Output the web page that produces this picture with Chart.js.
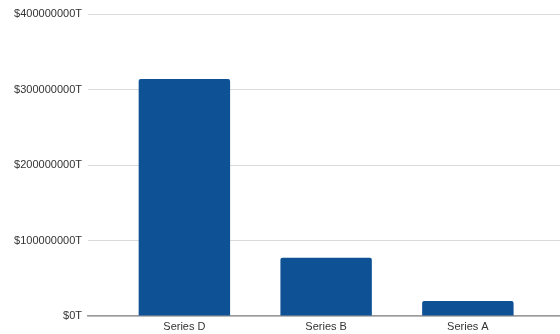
<!DOCTYPE html>
<html>
<head>
<meta charset="utf-8">
<script src="https://cdn.jsdelivr.net/npm/chart.js@4"></script>
<style>
  html, body { margin: 0; padding: 0; background: #fff; }
  #wrap { width: 560px; height: 334px; }
</style>
</head>
<body>
<div id="wrap"><canvas id="myChart"></canvas></div>
<script>
// chart data
var categories = ['Series D', 'Series B', 'Series A'];
var values = [314000000, 77000000, 20000000];
var yTicks = [0, 100000000, 200000000, 300000000, 400000000];

var ctx = document.getElementById('myChart').getContext('2d');
var myChart = new Chart(ctx, {
	type: 'bar',
	data: {
		datasets: [
			{
				data: values.map(function (v, i) { return { x: i, y: v }; }),
				backgroundColor: '#0e5194',
				borderRadius: { topLeft: 2, topRight: 2 },
				borderSkipped: 'bottom',
				barPercentage: 0.645,
				categoryPercentage: 1,
			},
		],
	},
	options: {
		responsive: true,
		maintainAspectRatio: false,
		animation: false,
		layout: { padding: { top: 14, right: 0, left: 0, bottom: 0 } },
		plugins: {
			legend: { display: false },
			tooltip: { enabled: false },
		},
		scales: {
			x: {
				type: 'linear',
				offset: false,
				min: -0.68,
				max: 2.65,
				afterBuildTicks: function (axis) {
					axis.ticks = categories.map(function (c, i) { return { value: i }; });
				},
				afterFit: function (axis) { axis.height = 18; },
				grid: { display: false, drawTicks: false },
				border: { display: true, color: '#9a9a9a', width: 1.5 },
				ticks: {
					padding: 4,
					color: '#333',
					font: { family: 'Liberation Sans, Arial, sans-serif', size: 11 },
					callback: function (v) { return categories[v]; },
				},
			},
			y: {
				min: 0,
				max: 400000000,
				afterBuildTicks: function (axis) {
					axis.ticks = yTicks.map(function (v) { return { value: v }; });
				},
				afterFit: function (axis) { axis.width = 88; },
				grid: { color: '#dadada', drawTicks: false },
				border: { display: false },
				ticks: {
					padding: 6,
					color: '#333',
					font: { family: 'Liberation Sans, Arial, sans-serif', size: 11 },
					callback: function (v) { return '$' + v + 'T'; },
				},
			},
		},
	},
});
</script>
</body>
</html>
